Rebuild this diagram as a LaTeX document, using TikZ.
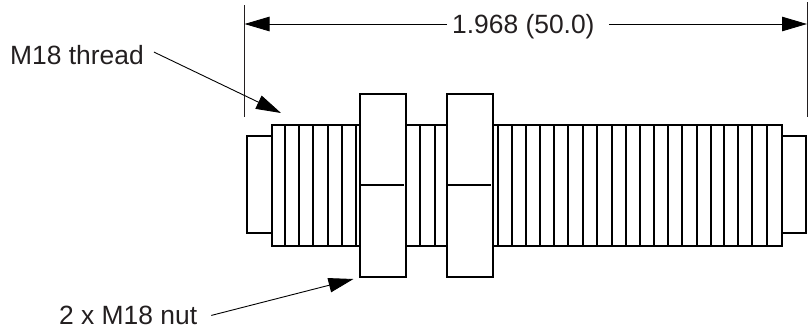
\documentclass[tikz,border=0pt]{standalone}
\usepackage{fontspec}
\setmainfont{Liberation Sans}
\usetikzlibrary{arrows.meta}
\definecolor{ink}{HTML}{231F20}
\tikzset{
  x=1pt,y=-1pt,
  part/.style={draw=black,line width=2pt,fill=white},
  partbox/.style={part,rectangle,inner sep=0pt,outer sep=0pt},
  threadline/.style={draw=black,line width=1.9pt},
  extline/.style={draw=ink,line width=1pt},
  leader/.style={draw=black,line width=0.9pt,-{Triangle[length=25pt,width=14.5pt,fill=black]}},
  txtlabel/.style={font=\fontsize{26.4pt}{28pt}\selectfont,text=ink,anchor=base west,inner ysep=0pt},
}
\begin{document}
\begin{tikzpicture}
\useasboundingbox (0,0) rectangle (812,330);
\fill[white] (0,0) rectangle (812,330);
% end caps
\node[partbox,minimum width=26pt,minimum height=97pt,anchor=north west] (capl) at (246.5,136.3) {};
\node[partbox,minimum width=24pt,minimum height=97pt,anchor=north west] (capr) at (781.5,136.3) {};
% threaded body
\node[partbox,minimum width=510.5pt,minimum height=120.5pt,anchor=north west] (body) at (271.5,125) {};
\foreach \tx in {285,299,313.3,327.7,342,356,420.3,434.7,497.7,512,526,540.3,554,568.3,582.7,596.7,612,626.3,640.3,654.3,668.3,682.3,696.7,710.7,724.3,738.3,752.3,766.7}{
  \draw[threadline] (\tx,125) -- (\tx,245.5);
}
% nuts
\node[partbox,minimum width=46pt,minimum height=183.3pt,anchor=north west] (nuta) at (360.3,94) {};
\node[partbox,minimum width=46pt,minimum height=183.3pt,anchor=north west] (nutb) at (447.3,94) {};
\draw[threadline] ([xshift=1pt]nuta.west |- 0,185) -- ([xshift=-2pt]nuta.east |- 0,185);
\draw[threadline] ([xshift=1pt]nutb.west |- 0,185) -- ([xshift=-2pt]nutb.east |- 0,185);
% extension lines
\coordinate (exla) at (244,5);
\coordinate (exlb) at (244,117);
\coordinate (exra) at (807.7,2);
\coordinate (exrb) at (807.7,117);
\draw[extline] (exla) -- (exlb);
\draw[extline] (exra) -- (exrb);
% labels
\node[txtlabel,inner xsep=5pt] (dim) at (447,33.5) {1.968 (50.0)};
\node[txtlabel,inner xsep=10pt] (lblt) at (0,64.5) {M18 thread};
\node[txtlabel,inner xsep=14pt] (lbln) at (45,324.5) {2 x M18 nut};
% dimension arrows
\coordinate (dtipl) at (244.5,24);
\coordinate (dtipr) at (807,24);
\draw[leader] (dim.west |- dtipl) -- (dtipl);
\draw[leader] ([xshift=9pt]dim.east |- dtipr) -- (dtipr);
% leaders
\coordinate (tipt) at (281,113);
\coordinate (tipn) at (353.5,279);
\draw[leader] ([yshift=3pt]lblt.east) -- (tipt);
\draw[leader] (lbln.east) -- (tipn);
\end{tikzpicture}
\end{document}
